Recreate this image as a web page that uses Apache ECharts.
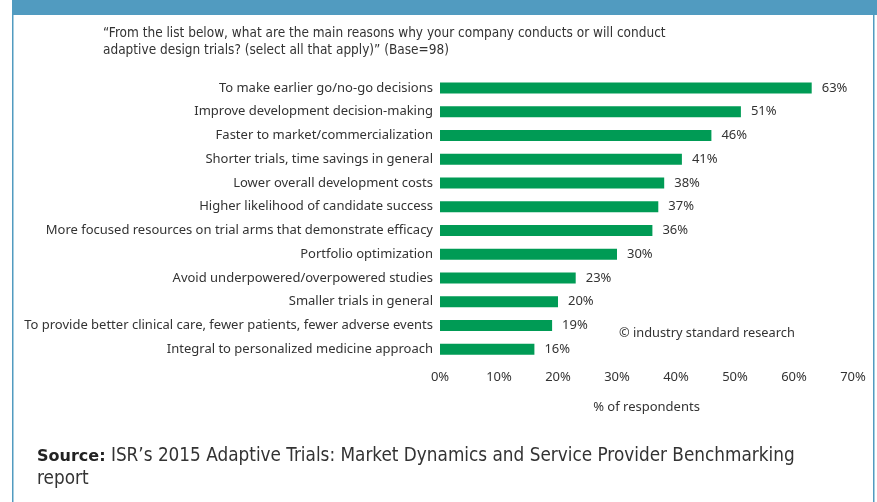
<!DOCTYPE html>
<html>
<head>
<meta charset="utf-8">
<script src="https://cdn.jsdelivr.net/npm/echarts@6/dist/echarts.min.js"></script>
<style>
  html, body { margin: 0; padding: 0; background: #fff; }
  #chart { width: 877px; height: 502px; }
</style>
</head>
<body>
<div id="chart"></div>
<script>
// Reasons for running adaptive design trials (share of respondents, %)
const categories = [
  'To make earlier go/no-go decisions',
  'Improve development decision-making',
  'Faster to market/commercialization',
  'Shorter trials, time savings in general',
  'Lower overall development costs',
  'Higher likelihood of candidate success',
  'More focused resources on trial arms that demonstrate efficacy',
  'Portfolio optimization',
  'Avoid underpowered/overpowered studies',
  'Smaller trials in general',
  'To provide better clinical care, fewer patients, fewer adverse events',
  'Integral to personalized medicine approach'
];
const shares = [63, 51, 46, 41, 38, 37, 36, 30, 23, 20, 19, 16];
const xTicks = [0, 10, 20, 30, 40, 50, 60, 70];

const questionLines = [
  '\u201cFrom the list below, what are the main reasons why your company conducts or will conduct',
  'adaptive design trials? (select all that apply)\u201d (Base=98)'
];
const axisTitle = '% of respondents';
const credit = '\u00a9 industry standard research';
const sourceLabel = 'Source:';
const sourceText = ' ISR\u2019s 2015 Adaptive Trials: Market Dynamics and Service Provider Benchmarking';
const sourceText2 = 'report';

const textFont = '"Noto Sans", "Open Sans", sans-serif';
const narrowFont = '"Liberation Sans Narrow", "DejaVu Sans Condensed", sans-serif';
const frameBlue = '#519bc0';

const chart = echarts.init(document.getElementById('chart'));
chart.setOption({
  animation: false,
  backgroundColor: '#fff',
  grid: { left: 440, right: 24, top: 76, height: 285, containLabel: false },
  xAxis: {
    type: 'value',
    min: xTicks[0],
    max: xTicks[xTicks.length - 1],
    interval: 10,
    axisLine: { show: false },
    axisTick: { show: false },
    splitLine: { show: false },
    axisLabel: {
      formatter: '{value}%',
      color: '#333',
      fontFamily: textFont,
      fontSize: 13,
      margin: 10
    },
    name: axisTitle,
    nameLocation: 'middle',
    nameGap: 40,
    nameTextStyle: { color: '#333', fontFamily: textFont, fontSize: 13 }
  },
  yAxis: {
    type: 'category',
    data: categories,
    inverse: true,
    axisLine: { show: false },
    axisTick: { show: false },
    splitLine: { show: false },
    axisLabel: {
      color: '#333',
      fontFamily: textFont,
      fontSize: 13,
      margin: 7
    }
  },
  series: [{
    type: 'bar',
    data: shares,
    barWidth: 11,
    itemStyle: { color: '#009b55' },
    label: {
      show: true,
      position: 'right',
      distance: 10,
      formatter: '{c}%',
      color: '#333',
      fontFamily: textFont,
      fontSize: 13
    }
  }],
  graphic: [
    { type: 'rect', shape: { x: 12, y: 0, width: 865, height: 15 }, style: { fill: frameBlue } },
    { type: 'rect', shape: { x: 12, y: 0, width: 1.5, height: 502 }, style: { fill: frameBlue } },
    { type: 'rect', shape: { x: 873, y: 0, width: 1.5, height: 502 }, style: { fill: frameBlue } },
    {
      type: 'text', left: 103, top: 25,
      style: { text: questionLines.join('\n'), fill: '#333', font: '13.5px ' + narrowFont, lineHeight: 17 }
    },
    {
      type: 'text', left: 619, top: 327,
      style: { text: credit, fill: '#333', font: '12.8px ' + textFont }
    },
    {
      type: 'text', left: 37, top: 447,
      style: {
        text: '{b|' + sourceLabel + '}{n|' + sourceText + '}\n{n|' + sourceText2 + '}',
        rich: {
          b: { font: '900 16px "DejaVu Sans", sans-serif', fill: '#222', lineHeight: 23 },
          n: { font: '18.8px ' + narrowFont, fill: '#333', lineHeight: 23 }
        }
      }
    }
  ]
});
</script>
</body>
</html>
